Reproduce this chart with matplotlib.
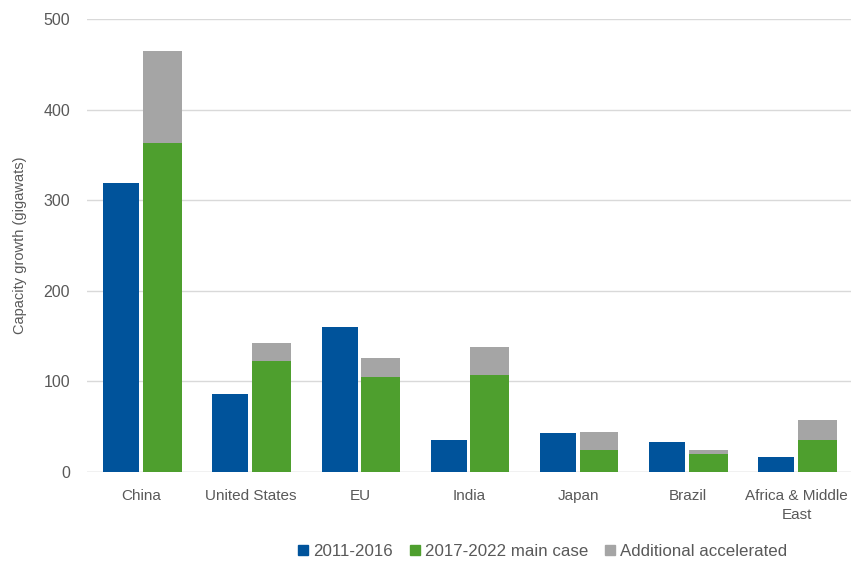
import numpy as np
import matplotlib.pyplot as plt
from matplotlib.patches import Patch

plt.rcParams['font.family'] = ['Liberation Sans', 'DejaVu Sans']

regions = ["China", "United States", "EU", "India", "Japan", "Brazil", "Africa & Middle\nEast"]
past = [319, 86, 160, 35, 43, 33, 17]
main_case = [363, 122, 105, 107, 24, 20, 35]
accel_extra = [102, 20, 21, 31, 20, 4, 22]

blue = "#00539B"
green = "#4E9F2E"
grey = "#A5A5A5"
txt = "#595959"

fig = plt.figure(figsize=(8.52, 5.63), dpi=100)
ax = fig.add_axes([0.102, 0.1616, 0.897, 0.8046])

x = np.arange(len(regions))
ax.bar(x - 0.185, past, width=0.33, color=blue, zorder=3)
ax.bar(x + 0.19, main_case, width=0.355, color=green, zorder=3)
ax.bar(x + 0.19, accel_extra, width=0.355, bottom=main_case, color=grey, zorder=3)

ax.set_xlim(-0.5, len(regions) - 0.5)
ax.set_ylim(0, 500)
ax.set_yticks([0, 100, 200, 300, 400, 500])
ax.set_xticks(x)
ax.set_xticklabels(regions, fontsize=11, color=txt, linespacing=1.45)
ax.tick_params(axis='both', length=0, colors=txt)
ax.tick_params(axis='y', labelsize=11.5, pad=12)
ax.tick_params(axis='x', pad=12)
ax.grid(axis='y', color="#D9D9D9", linewidth=1, zorder=0)
for s in ax.spines.values():
    s.set_visible(False)
ax.axhline(0, color="#D9D9D9", linewidth=1, zorder=2)
ax.set_ylabel("Capacity growth (gigawats)", fontsize=10.5, color=txt, labelpad=12)

handles = [Patch(color=blue, label="2011-2016"),
           Patch(color=green, label="2017-2022 main case"),
           Patch(color=grey, label="Additional accelerated")]
fig.legend(handles=handles, loc='lower center', bbox_to_anchor=(0.637, -0.02), ncol=3,
           frameon=False, fontsize=12.2, labelcolor=txt, handlelength=0.6, handleheight=0.6,
           handletextpad=0.3, columnspacing=1.0)

fig.savefig("out.png", dpi=100)
